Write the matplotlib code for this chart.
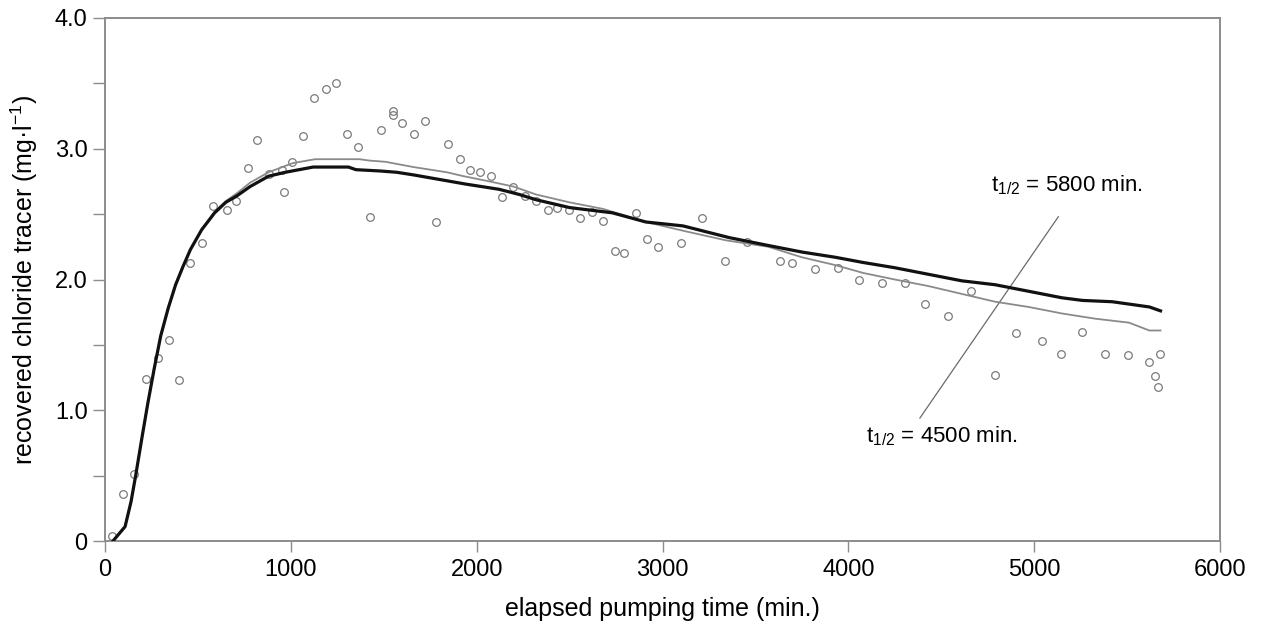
import matplotlib
matplotlib.use("Agg")
import matplotlib.pyplot as plt
from matplotlib.ticker import MultipleLocator

plt.rcParams['font.family'] = ['Liberation Sans', 'DejaVu Sans']
plt.rcParams['mathtext.fontset'] = 'custom'
plt.rcParams['mathtext.rm'] = 'Liberation Sans'
plt.rcParams['mathtext.it'] = 'Liberation Sans'
plt.rcParams['mathtext.default'] = 'regular'

# observed data points
obs_x = [36, 99, 156, 221, 284, 346, 397, 458, 521, 582, 654, 707, 768, 817, 880,
         955, 962, 1004, 1063, 1126, 1188, 1241, 1302, 1363, 1424, 1487, 1548, 1548,
         1600, 1662, 1722, 1783, 1846, 1908, 1965, 2016, 2075, 2136, 2197, 2260, 2321,
         2382, 2434, 2495, 2556, 2618, 2679, 2742, 2794, 2855, 2918, 2978, 3100, 3215,
         3337, 3457, 3634, 3695, 3821, 3943, 4056, 4179, 4305, 4414, 4539, 4661, 4787,
         4900, 5043, 5145, 5258, 5382, 5507, 5618, 5649, 5668, 5679]
obs_y = [0.04, 0.36, 0.51, 1.24, 1.40, 1.54, 1.23, 2.13, 2.28, 2.56, 2.53, 2.60, 2.85,
         3.07, 2.81, 2.84, 2.67, 2.90, 3.10, 3.39, 3.46, 3.50, 3.11, 3.01, 2.48, 3.14,
         3.29, 3.26, 3.20, 3.11, 3.21, 2.44, 3.04, 2.92, 2.84, 2.82, 2.79, 2.63, 2.71,
         2.64, 2.60, 2.53, 2.55, 2.53, 2.47, 2.52, 2.45, 2.22, 2.20, 2.51, 2.31, 2.25,
         2.28, 2.47, 2.14, 2.29, 2.14, 2.13, 2.08, 2.09, 2.00, 1.97, 1.97, 1.81, 1.72,
         1.91, 1.27, 1.59, 1.53, 1.43, 1.60, 1.43, 1.42, 1.37, 1.26, 1.18, 1.43]

# model curve, t1/2 = 5800 min (thick black)
m5800_x = [43, 108, 140, 165, 200, 230, 265, 300, 340, 380, 420, 460, 520, 590, 650,
           710, 780, 880, 970, 1120, 1310, 1350, 1480, 1570, 1660, 1780, 1940, 2120,
           2230, 2320, 2500, 2730, 2910, 3110, 3360, 3570, 3750, 3930, 4080, 4250,
           4430, 4610, 4790, 4970, 5150, 5260, 5420, 5620, 5680]
m5800_y = [0.00, 0.11, 0.30, 0.50, 0.80, 1.05, 1.32, 1.57, 1.78, 1.96, 2.10, 2.23,
           2.38, 2.51, 2.59, 2.64, 2.71, 2.79, 2.82, 2.86, 2.86, 2.84, 2.83, 2.82,
           2.80, 2.77, 2.73, 2.69, 2.65, 2.61, 2.55, 2.51, 2.44, 2.41, 2.32, 2.26,
           2.21, 2.17, 2.13, 2.09, 2.04, 1.99, 1.96, 1.91, 1.86, 1.84, 1.83, 1.79, 1.76]

# model curve, t1/2 = 4500 min (thin grey)
m4500_x = [43, 108, 140, 165, 200, 230, 265, 300, 340, 380, 420, 460, 520, 590, 650,
           710, 780, 880, 1010, 1130, 1370, 1420, 1510, 1660, 1840, 1930, 2070, 2200,
           2320, 2500, 2680, 2910, 3120, 3340, 3570, 3750, 3930, 4080, 4250, 4430,
           4580, 4790, 4970, 5150, 5330, 5510, 5620, 5680]
m4500_y = [0.00, 0.11, 0.30, 0.50, 0.80, 1.05, 1.32, 1.57, 1.78, 1.96, 2.10, 2.23,
           2.38, 2.52, 2.60, 2.66, 2.74, 2.82, 2.89, 2.92, 2.92, 2.91, 2.90, 2.86,
           2.82, 2.79, 2.75, 2.71, 2.65, 2.59, 2.54, 2.44, 2.37, 2.30, 2.25, 2.17,
           2.11, 2.05, 2.00, 1.95, 1.90, 1.83, 1.79, 1.74, 1.70, 1.67, 1.61, 1.61]

# leader line between the two labels
leader_x = [5130, 4385]
leader_y = [2.48, 0.94]

x_ticks = [0, 1000, 2000, 3000, 4000, 5000, 6000]
x_ticklabels = ['0', '1000', '2000', '3000', '4000', '5000', '6000']
y_ticks = [0, 1, 2, 3, 4]
y_ticklabels = ['0', '1.0', '2.0', '3.0', '4.0']

fig = plt.figure(figsize=(12.65, 6.29), dpi=100)
ax = fig.add_axes([105/1265, 1 - 541/629, (1220-105)/1265, (541-18)/629])

ax.plot(m4500_x, m4500_y, color='#8a8a8a', lw=1.3, zorder=3)
ax.plot(m5800_x, m5800_y, color='#111111', lw=2.3, zorder=4)
ax.plot(obs_x, obs_y, linestyle='none', marker='o', markersize=5.5,
        markerfacecolor='none', markeredgecolor='#7a7a7a', markeredgewidth=0.9, zorder=2)
ax.plot(leader_x, leader_y, color='#6a6a6a', lw=0.9, zorder=1)

ax.text(4770, 2.72, r't$_{1/2}$ = 5800 min.', fontsize=16, ha='left', va='center')
ax.text(4093, 0.80, r't$_{1/2}$ = 4500 min.', fontsize=16, ha='left', va='center')

ax.set_xlim(0, 6000)
ax.set_ylim(0, 4.0)
ax.set_xticks(x_ticks)
ax.set_xticklabels(x_ticklabels)
ax.set_yticks(y_ticks)
ax.set_yticklabels(y_ticklabels)
ax.yaxis.set_minor_locator(MultipleLocator(0.5))

for s in ax.spines.values():
    s.set_color('#8c8c8c')
    s.set_linewidth(1.4)

ax.tick_params(axis='both', which='both', direction='out', color='#8c8c8c',
               width=1.0, labelsize=17)
ax.tick_params(axis='x', which='major', length=8, pad=5)
ax.tick_params(axis='y', which='major', length=8.5, pad=4)
ax.tick_params(axis='y', which='minor', length=8.5)

ax.set_xlabel('elapsed pumping time (min.)', fontsize=18)
ax.set_ylabel(r'recovered chloride tracer (mg·l$^{-1}$)', fontsize=18)
ax.xaxis.set_label_coords(0.5, (541 - 597) / 523)
ax.yaxis.set_label_coords((40 - 105) / 1115, 0.5)

fig.savefig('out.png', dpi=100)
